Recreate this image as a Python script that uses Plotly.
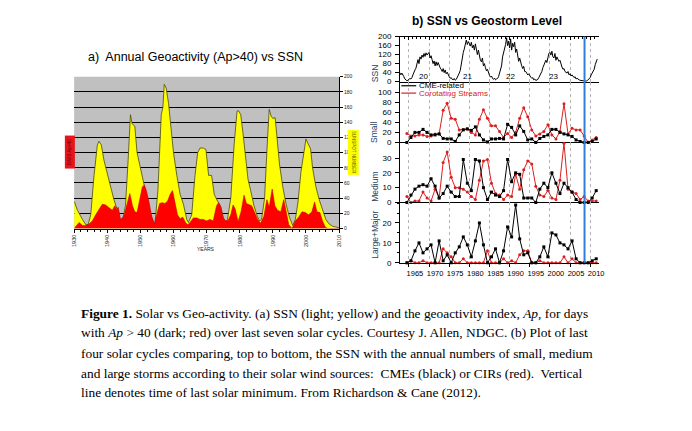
import numpy as np
import plotly.graph_objects as go

W, H = 692, 431

# ---------------- panel a: yearly SSN and days with Ap>40 ----------------
ssn_a_years = [1930, 1931, 1932.5, 1933.5, 1934.2, 1935, 1936, 1937, 1937.5, 1938.2, 1939, 1940,
               1941, 1942, 1943, 1944, 1944.5, 1945.5, 1946.3, 1947, 1947.5, 1948.3, 1949, 1950,
               1951, 1952, 1953, 1954, 1954.4, 1955.3, 1956.3, 1956.8, 1957.2, 1957.8, 1958.5,
               1959.3, 1960, 1961, 1962, 1963, 1964, 1964.5, 1965.5, 1966.5, 1967.3, 1968, 1969,
               1969.8, 1970.6, 1971.5, 1972.3, 1973.3, 1974.2, 1975, 1975.6, 1976.3, 1977.3, 1978.3,
               1979.2, 1979.7, 1980.3, 1981, 1982, 1982.5, 1983.3, 1984.3, 1985.3, 1986, 1986.6,
               1987.5, 1988.3, 1988.9, 1989.5, 1990, 1990.7, 1991.3, 1992, 1993, 1994, 1995, 1996,
               1996.8, 1997.6, 1998.5, 1999.3, 2000, 2000.6, 2001.4, 2002, 2003, 2004, 2005, 2006,
               2007, 2008, 2009, 2010]
ssn_a = [36, 24, 12, 5, 5, 18, 70, 110, 115, 110, 90, 72,
         55, 38, 25, 10, 8, 30, 90, 150, 138, 135, 100, 80,
         62, 40, 20, 8, 6, 50, 150, 160, 190, 185, 165,
         130, 100, 70, 45, 32, 12, 8, 18, 70, 100, 106, 106,
         104, 70, 70, 45, 36, 30, 15, 8, 12, 40, 110,
         155, 155, 150, 125, 90, 65, 50, 30, 16, 10, 12,
         40, 110, 157, 148, 145, 146, 120, 85, 55, 32, 15, 4,
         12, 35, 75, 100, 118, 112, 105, 80, 55, 38, 25, 12,
         6, 3, 2, 1]
ap_days_years = [1930, 1930.8, 1931.5, 1932.5, 1933.5, 1934.5, 1935.5, 1936.5, 1937.5, 1938.5,
                 1939.5, 1940.5, 1941.5, 1942.3, 1942.8, 1943.3, 1944, 1945, 1946, 1946.8, 1947.6,
                 1948.3, 1949, 1949.8, 1950.6, 1951.2, 1951.8, 1952.6, 1953.4, 1954.2, 1955,
                 1955.8, 1956.6, 1957.4, 1958.2, 1959, 1959.7, 1960.4, 1961.2, 1962, 1962.8,
                 1963.6, 1964.3, 1965, 1966, 1967, 1968, 1969, 1970, 1971, 1972, 1973, 1973.6,
                 1974.3, 1975, 1975.8, 1976.5, 1977.3, 1978, 1978.6, 1979.5, 1980.4, 1981.3, 1982,
                 1982.8, 1983.6, 1984.4, 1985.4, 1986.3, 1987.3, 1988.2, 1988.9, 1989.8, 1990.6,
                 1991.4, 1992.4, 1993.3, 1994, 1994.8, 1995.8, 1996.8, 1997.8, 1998.8, 1999.8,
                 2000.8, 2001.8, 2002.6, 2003.3, 2004.2, 2005, 2005.8, 2006.5, 2010]
ap_days = [0, 5, 8, 4, 4, 6, 10, 18, 26, 32,
           31, 28, 24, 30, 25, 28, 12, 16, 34, 46, 30,
           22, 21, 38, 55, 57, 50, 35, 16, 6, 18,
           33, 34, 33, 36, 45, 50, 35, 18, 13, 15,
           8, 5, 8, 14, 14, 12, 12, 10, 12, 10, 30, 34,
           28, 14, 10, 11, 18, 31, 26, 9, 22, 44, 33,
           32, 30, 22, 12, 7, 16, 38, 28, 52, 30,
           24, 22, 38, 23, 5, 0, 10, 15, 22, 21,
           18, 22, 35, 22, 21, 10, 2, 0, 0]

# ---------------- panel b: quarterly SSN, 1962.75 onwards ----------------
ssn_b_start = 1962.75
ssn_b = [40,
         30, 38, 25, 22,   12, 8, 4, 6,   10, 14, 12, 18,   30, 45, 52, 60,
         85, 98, 80, 110,  100, 118, 108, 125,  112, 128, 118, 122,  130, 105, 115, 98,
         80, 92, 70, 88,   72, 85, 68, 62,   55, 45, 58, 40,   52, 35, 42, 28,
         22, 15, 18, 10,   8, 14, 6, 10,   18, 25, 38, 50,   80, 110, 130, 145,
         160, 185, 165, 178,  170, 158, 175, 150,  162, 140, 168, 130,  120, 140, 110, 95,
         88, 105, 70, 80,  62, 48, 55, 38,  28, 20, 25, 15,  10, 16, 8, 12,
         14, 22, 35, 50,   70, 110, 125, 150,  165, 195, 160, 180,  150, 190, 140, 170,
         155, 175, 130, 145,  115, 90, 105, 80,  70, 58, 68, 45,  45, 38, 30, 35,
         25, 20, 15, 18,   8, 12, 5, 8,   10, 18, 25, 35,   45, 62, 75, 90,
         95, 85, 110, 125,  130, 118, 135, 110,  105, 125, 95, 110,  100, 90, 95, 75,
         65, 55, 58, 45,   42, 38, 45, 30,   35, 25, 30, 20,   18, 22, 12, 15,
         10, 8, 6, 5,   4, 2, 3, 1,   2, 4, 8, 14,   18, 30, 40, 45,   55, 75, 90, 100]
ssn_b_years = ssn_b_start + 0.25 * np.arange(len(ssn_b))

# annual storm counts, plotted mid-year 1964.5 .. 2011.5
storm_years = np.arange(1964.5, 2012, 1.0)
small_cme = [0, 10, 20, 20, 26, 20, 15, 15, 17, 8, 7, 7, 2, 15, 25, 27, 24, 31, 15, 5,
             1, 7, 7, 8, 7, 36, 30, 15, 33, 22, 5, 7, 0, 8, 12, 15, 26, 26, 20, 17,
             15, 12, 5, 2, 0, 0, 2, 7]
small_cir = [18, 13, 13, 15, 15, 12, 13, 17, 17, 64, 78, 48, 46, 25, 26, 27, 20, 15, 46, 65,
             48, 33, 33, 22, 10, 18, 10, 20, 48, 69, 51, 25, 13, 17, 22, 35, 15, 7, 22, 77,
             17, 28, 25, 25, 13, 0, 5, 10]
medium_cme = [0, 5, 9, 11, 12, 11, 16, 11, 3, 6, 11, 7, 4, 4, 29, 13, 8, 29, 28, 10,
              2, 7, 5, 4, 8, 29, 14, 20, 19, 3, 3, 3, 0, 9, 13, 10, 20, 13, 6, 13,
              10, 7, 2, 0, 0, 0, 3, 8]
medium_cir = [4, 0, 1, 1, 7, 3, 1, 9, 3, 27, 34, 17, 10, 10, 9, 7, 4, 2, 15, 28,
              29, 13, 6, 5, 2, 5, 4, 19, 9, 22, 28, 26, 11, 5, 4, 8, 3, 2, 15, 40,
              9, 7, 6, 2, 4, 1, 1, 1]
large_cme = [0, 1, 6, 10, 5, 7, 9, 0, 11, 1, 4, 0, 5, 8, 13, 9, 3, 11, 20, 9,
             0, 3, 7, 0, 6, 18, 13, 29, 12, 4, 5, 0, 0, 3, 8, 3, 15, 14, 10, 9,
             7, 11, 2, 0, 0, 0, 1, 2]
large_cir = [0, 1, 0, 0, 1, 0, 0, 0, 0, 7, 5, 3, 0, 0, 2, 0, 0, 0, 0, 0,
             6, 0, 0, 0, 2, 0, 1, 0, 4, 6, 6, 0, 0, 1, 0, 0, 0, 0, 0, 3,
             0, 2, 0, 0, 0, 0, 0, 0]

cycle_names = ["20", "21", "22", "23"]
cycle_years = [1968.5, 1979.6, 1990.2, 2000.9]
solar_min_year = 2008.6

caption_lines = [
    "<b>Figure 1.</b> Solar vs Geo-activity. (a) SSN (light; yellow) and the geoactivity index, <i>Ap</i>, for days",
    "with <i>Ap</i> &gt; 40 (dark; red) over last seven solar cycles. Courtesy J. Allen, NDGC. (b) Plot of last",
    "four solar cycles comparing, top to bottom, the SSN with the annual numbers of small, medium",
    "and large storms according to their solar wind sources:  CMEs (black) or CIRs (red).  Vertical",
    "line denotes time of last solar minimum. From Richardson &amp; Cane (2012).",
]


def px(x):
    return x / W


def py(y):
    return 1 - y / H


SANS = "Liberation Sans, Arial, sans-serif"
RED = "#d92020"
GRID = "#b4b4b4"

fig = go.Figure()

# panel a traces
fig.add_trace(go.Scatter(x=ssn_a_years, y=ssn_a, mode="lines", fill="tozeroy",
                         fillcolor="#ffff00", line=dict(color="#4a4a10", width=0.8),
                         xaxis="x", yaxis="y", showlegend=False))
fig.add_trace(go.Scatter(x=ap_days_years, y=ap_days, mode="lines", fill="tozeroy",
                         fillcolor="#ff0000", line=dict(color="#cc0000", width=0.6),
                         xaxis="x", yaxis="y", showlegend=False))

# panel b traces
fig.add_trace(go.Scatter(x=ssn_b_years, y=ssn_b, mode="lines",
                         line=dict(color="black", width=1),
                         xaxis="x2", yaxis="y2", showlegend=False))

panels = [("x3", "y3", small_cme, small_cir),
          ("x4", "y4", medium_cme, medium_cir),
          ("x5", "y5", large_cme, large_cir)]
for xa, ya, cme, cir in panels:
    fig.add_trace(go.Scatter(x=storm_years, y=cir, mode="lines+markers",
                             line=dict(color=RED, width=1),
                             marker=dict(color=RED, size=3, symbol="circle"),
                             cliponaxis=False, xaxis=xa, yaxis=ya, showlegend=False))
    fig.add_trace(go.Scatter(x=storm_years, y=cme, mode="lines+markers",
                             line=dict(color="black", width=1),
                             marker=dict(color="black", size=3, symbol="square"),
                             cliponaxis=False, xaxis=xa, yaxis=ya, showlegend=False))

# axes
rx = [px(401.7), px(603)]
xr = [1962.8, 2012.2]
tick_font = dict(family=SANS, size=8, color="black")
grid = dict(showgrid=True, gridcolor=GRID, griddash="dot", gridwidth=0.8)

layout_axes = dict(
    xaxis=dict(domain=[px(72), px(340)], range=[1930, 2010], anchor="y",
               tickvals=list(range(1930, 2011, 10)), tickangle=-90,
               tickfont=dict(family=SANS, size=5.5, color="#222"),
               showline=True, linecolor="black", linewidth=1,
               ticks="outside", ticklen=3, tickcolor="black",
               minor=dict(dtick=2, ticks="outside", ticklen=2, tickcolor="black"),
               showgrid=False, zeroline=False),
    yaxis=dict(domain=[py(229.3), py(74.3)], range=[0, 200], anchor="x", side="right",
               dtick=20, tickfont=dict(family=SANS, size=5, color="#222"),
               showline=True, linecolor="black", linewidth=1,
               ticks="outside", ticklen=3, tickcolor="black",
               showgrid=True, gridcolor="black", gridwidth=1, zeroline=False),
    xaxis2=dict(domain=rx, range=xr, anchor="y2", side="top", showticklabels=False,
                showline=True, mirror=True, linecolor="black", linewidth=1,
                tick0=1965, dtick=5, ticks="inside", ticklen=3, tickcolor="black",
                minor=dict(dtick=1, ticks="inside", ticklen=2, tickcolor="black", showgrid=False),
                zeroline=False, **grid),
    yaxis2=dict(domain=[py(79.3), py(33.3)], range=[0, 200], anchor="x2",
                tickvals=[0, 40, 80, 120, 160, 200]),
    xaxis3=dict(domain=rx, range=xr, anchor="y3", showticklabels=False,
                showline=True, linecolor="black", linewidth=1, ticks="",
                tick0=1965, dtick=5, zeroline=False, **grid),
    yaxis3=dict(domain=[py(141.4), py(79.3)], range=[0, 121], anchor="x3",
                tickvals=[0, 20, 40, 60, 80, 100]),
    xaxis4=dict(domain=rx, range=xr, anchor="y4", showticklabels=False,
                showline=True, linecolor="black", linewidth=1, ticks="",
                tick0=1965, dtick=5, zeroline=False, **grid),
    yaxis4=dict(domain=[py(202.7), py(141.4)], range=[0, 40.5], anchor="x4",
                tickvals=[0, 10, 20, 30]),
    xaxis5=dict(domain=rx, range=xr, anchor="y5",
                showline=True, linecolor="black", linewidth=1,
                tick0=1965, dtick=5, ticks="outside", ticklen=3, tickcolor="black",
                tickfont=dict(family=SANS, size=7.5, color="black"), ticklabelshift=6,
                zeroline=False, **grid),
    yaxis5=dict(domain=[py(264.3), py(202.7)], range=[0, 30.3], anchor="x5",
                tickvals=[0, 10, 20],
                minor=dict(dtick=5, ticks="outside", ticklen=2, tickcolor="black")),
)
for k in ["yaxis2", "yaxis3", "yaxis4", "yaxis5"]:
    layout_axes[k].update(showline=True, linecolor="black", linewidth=1,
                          ticks="outside", ticklen=4, tickcolor="black",
                          tickfont=tick_font, ticklabelstandoff=2,
                          showgrid=False, zeroline=False)

fig.update_layout(
    width=W, height=H, autosize=False,
    margin=dict(l=0, r=0, t=0, b=0),
    paper_bgcolor="white", plot_bgcolor="white",
    showlegend=False,
    **layout_axes,
)

shapes = [
    # grey backdrop of panel a
    dict(type="rect", xref="x domain", yref="y domain", x0=0, x1=1, y0=0, y1=1,
         fillcolor="#c0c0c0", line=dict(width=0), layer="below"),
    # last solar minimum
    dict(type="line", xref="x5", yref="paper", x0=solar_min_year, x1=solar_min_year,
         y0=py(264.3), y1=py(33.3), line=dict(color="#2f7fd6", width=2)),
    # legend swatches
    dict(type="line", xref="paper", yref="paper", x0=px(403), x1=px(418),
         y0=py(83.5), y1=py(83.5), line=dict(color="black", width=1.2)),
    dict(type="line", xref="paper", yref="paper", x0=px(403), x1=px(418),
         y0=py(91), y1=py(91), line=dict(color=RED, width=1.2)),
]

ann = [
    dict(text="a)  Annual Geoactivity (Ap&gt;40) vs SSN", x=px(195), y=py(54),
         font=dict(family=SANS, size=12.5, color="black")),
    dict(text="<b>b) SSN vs Geostorm Level</b>", x=px(490), y=py(17),
         font=dict(family=SANS, size=12, color="black")),
    dict(text="YEARS", x=px(205), y=py(250), font=dict(family=SANS, size=5, color="#222")),
    dict(text="DAYS Ap&gt;40", x=px(68), y=py(151), textangle=-90, width=30, height=7,
         bgcolor="#e8141c", font=dict(family=SANS, size=4.5, color="#6a0000")),
    dict(text="SUNSPOT NUMBER", x=px(354), y=py(151.5), textangle=90, width=42, height=8,
         bgcolor="#ffff00", font=dict(family=SANS, size=4.5, color="#555500")),
    dict(text="SSN", x=px(376), y=py(71), textangle=-90, font=dict(family=SANS, size=8.5)),
    dict(text="Small", x=px(376), y=py(131), textangle=-90, font=dict(family=SANS, size=8.5)),
    dict(text="Medium", x=px(376), y=py(187), textangle=-90, font=dict(family=SANS, size=8.5)),
    dict(text="Large+Major", x=px(376), y=py(236), textangle=-90, font=dict(family=SANS, size=8.5)),
    dict(text="CME-related", x=px(419), y=py(83.5), xanchor="left",
         font=dict(family=SANS, size=8, color="black")),
    dict(text="Corotating Streams", x=px(419), y=py(91.5), xanchor="left",
         font=dict(family=SANS, size=8, color=RED)),
]
for a in ann:
    a.setdefault("xref", "paper")
    a.setdefault("yref", "paper")
    a.setdefault("showarrow", False)
    a.setdefault("xanchor", "center")
    a.setdefault("yanchor", "middle")

for name, yr in zip(cycle_names, cycle_years):
    ann.append(dict(text=name, x=yr, y=25, xref="x2", yref="y2", showarrow=False,
                    font=dict(family=SANS, size=8, color="black")))

caption_y = [316, 336, 357, 377, 397]
for line, yy in zip(caption_lines, caption_y):
    ann.append(dict(text=line, x=px(77), y=py(yy), xref="paper", yref="paper",
                    xanchor="left", yanchor="middle", showarrow=False,
                    font=dict(family="Liberation Serif, Times New Roman, serif",
                              size=13.4, color="black")))

fig.update_layout(shapes=shapes, annotations=ann)
# drop the default page margin so the figure sits at the window's top-left corner
fig.write_html("out.html", config={"displayModeBar": False},
               post_script="document.body.style.margin='0';document.body.style.overflow='hidden';")
